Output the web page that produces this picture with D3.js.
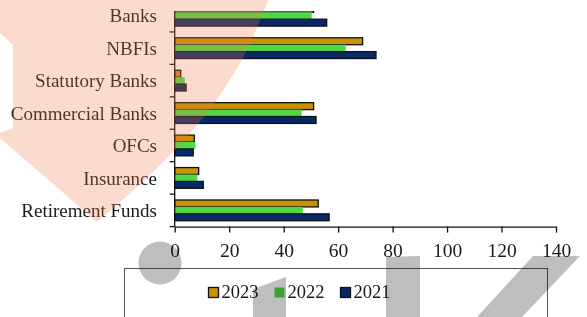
<!DOCTYPE html>
<html lang="en">

<head>
  <meta charset="UTF-8">
  <script src="https://cdn.jsdelivr.net/npm/d3@7"></script>
  <title>Holdings by sector</title>
  <style>
    body { margin: 0; background: #fff; }
    svg text { font-family: "Times New Roman", "Liberation Serif", Tinos, "DejaVu Serif", serif; fill: #1a1a1a; }
    .grey { mix-blend-mode: multiply; }
  </style>
</head>

<body>
  <svg width="587" height="317"></svg>
  <script>
    var categories = ["Banks", "NBFIs", "Statutory Banks", "Commercial Banks", "OFCs", "Insurance", "Retirement Funds"];
    var years = ["2023", "2022", "2021"];
    var values2023 = [51, 69, 2.2, 51, 7.2, 8.8, 52.7];
    var values2022 = [50.3, 62.8, 3.7, 46.6, 7.6, 8.3, 47];
    var values2021 = [55.8, 73.9, 4.2, 51.9, 6.8, 10.5, 56.7];
    var xTicks = [0, 20, 40, 60, 80, 100, 120, 140];

    var colors = { "2023": "#c99200", "2022": "#4fd84a", "2021": "#06296b" };
    var strokes = { "2023": "#111", "2022": "none", "2021": "#111" };

    var series = { "2023": values2023, "2022": values2022, "2021": values2021 };
    var rows = categories.map(function (c, i) {
      return { name: c, vals: years.map(function (y) { return { year: y, value: series[y][i] } }) }
    })

    var svg = d3.select("svg")
    // note: "top" is taken by window.top, so use other names
    var plotLeft = 174.7, plotRight = 556, plotTop = -0.5, plotBottom = 226.6

    var x = d3.scaleLinear().domain([0, 140]).range([plotLeft, plotRight])
    var y = d3.scaleBand().domain(categories).range([plotTop, plotBottom]).paddingInner(0.36).paddingOuter(0.18)
    var y1 = d3.scaleBand().domain(years).range([0, y.bandwidth()])

    // the picture is cut off just above the first bar
    svg.append("clipPath").attr("id", "cut")
      .append("rect").attr("x", 0).attr("y", 11).attr("width", 587).attr("height", 317)

    var plot = svg.append("g").attr("clip-path", "url(#cut)")

    var groups = plot.selectAll(".grp")
      .data(rows)
      .enter()
      .append("g")
      .attr("transform", d => "translate(0," + y(d.name) + ")")

    groups.selectAll("rect")
      .data(d => d.vals)
      .enter()
      .append("rect")
      .attr("x", x(0))
      .attr("y", d => y1(d.year))
      .attr("width", d => x(d.value) - x(0))
      .attr("height", y1.bandwidth())
      .attr("fill", d => colors[d.year])
      .attr("stroke", d => strokes[d.year])
      .attr("stroke-width", 1.3)

    // x axis
    var xAxis = d3.axisBottom(x).tickValues(xTicks).tickSize(6).tickSizeOuter(0).tickFormat(d3.format("d"))
    var gx = svg.append("g").attr("transform", "translate(0," + plotBottom + ")").call(xAxis)
    gx.attr("font-family", null)
    gx.select(".domain").attr("stroke", "#111").attr("stroke-width", 1.3)
    gx.selectAll(".tick line").attr("stroke", "#111").attr("stroke-width", 1.3)
    gx.selectAll("text").attr("font-size", 19.5).attr("dy", null).attr("y", 30).attr("fill", "#1a1a1a")

    // y axis: line plus ticks between categories
    var gy = plot.append("g")
    gy.append("line").attr("x1", plotLeft).attr("x2", plotLeft).attr("y1", plotTop).attr("y2", plotBottom)
      .attr("stroke", "#111").attr("stroke-width", 1.3)
    gy.selectAll(".yt")
      .data(categories)
      .enter()
      .append("line")
      .attr("x1", plotLeft - 5).attr("x2", plotLeft)
      .attr("y1", (d, i) => plotTop + y.step() * (i + 1))
      .attr("y2", (d, i) => plotTop + y.step() * (i + 1))
      .attr("stroke", "#111").attr("stroke-width", 1.3)

    svg.selectAll(".lbl")
      .data(categories)
      .enter()
      .append("text")
      .attr("x", 157)
      .attr("y", d => y(d) + y.bandwidth() / 2)
      .attr("dy", "0.35em")
      .attr("text-anchor", "end")
      .attr("font-size", 19)
      .text(d => d)

    // legend
    svg.append("rect").attr("x", 124.5).attr("y", 268.5).attr("width", 423).attr("height", 60)
      .attr("fill", "none").attr("stroke", "#555").attr("stroke-width", 1)

    var legendX = [208.5, 274.5, 340.5]
    var lg = svg.selectAll(".lg")
      .data(years)
      .enter()
      .append("g")
      .attr("transform", (d, i) => "translate(" + legendX[i] + ",287.5)")
    lg.append("rect").attr("width", 10).attr("height", 10)
      .attr("fill", d => colors[d]).attr("stroke", d => strokes[d]).attr("stroke-width", 1.3)
    lg.append("text").attr("x", 13).attr("y", 10.5).attr("font-size", 18.5).text(d => d)

    // watermark lying over the picture
    var wm = svg.append("g").attr("pointer-events", "none")
    var edge = d3.line().curve(d3.curveCatmullRom)
    var peachEdge = edge([[268, 0], [247, 50], [207, 113], [150, 175], [97, 222]])
    wm.append("path")
      .attr("d", "M0,0" + peachEdge.replace(/^M/, "L") + "L0,138L0,133L13,128L13,45L0,33Z")
      .attr("fill", "#ee7a4a").attr("opacity", 0.27)

    wm.append("circle").attr("class", "grey").attr("cx", 160).attr("cy", 263).attr("r", 21.5).attr("fill", "#bebebe")
    var greyShapes = [
      [[253, 289], [286, 277], [286, 317], [253, 317]],
      [[386, 257], [420, 256], [420, 317], [386, 317]],
      [[533, 256], [580, 256], [522, 317], [477, 317]]
    ]
    wm.selectAll(".gs")
      .data(greyShapes)
      .enter()
      .append("path")
      .attr("class", "grey")
      .attr("d", d => "M" + d.join("L") + "Z")
      .attr("fill", "#bebebe")
  </script>

</body>

</html>
